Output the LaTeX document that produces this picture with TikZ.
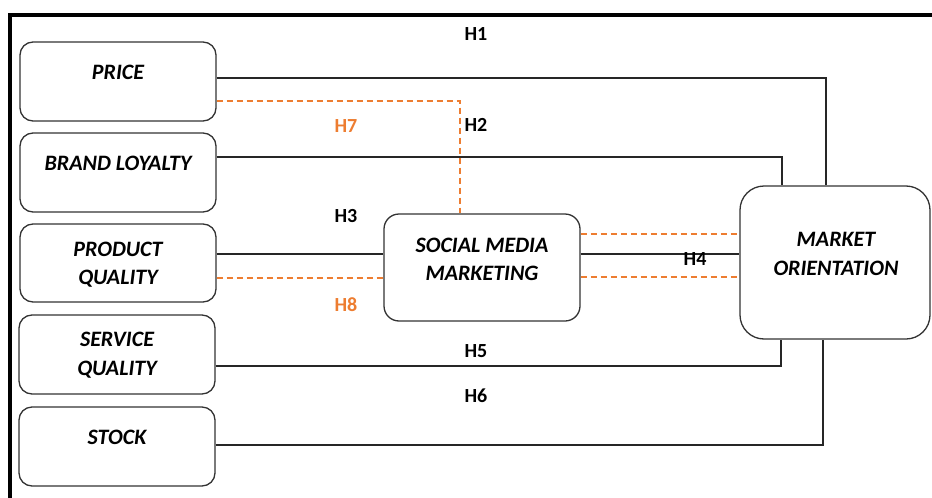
\documentclass[tikz,border=0pt]{standalone}
\usepackage{fontspec}
\setmainfont{Carlito}
\definecolor{orange7}{HTML}{ED7D31}
\begin{document}
\begin{tikzpicture}[x=1pt,y=-1pt,
  box/.style={draw=black!80, line width=1.3pt, rounded corners=13pt, inner sep=0pt,
              minimum width=196pt, minimum height=79pt},
  boxtext/.style={font=\fontsize{22}{28.5}\selectfont\bfseries\itshape, align=center, inner sep=0pt},
  hyp/.style={font=\fontsize{20}{22}\selectfont\bfseries, inner sep=0pt},
  hypo/.style={hyp, text=orange7},
  link/.style={draw=black!85, line width=1.2pt},
  dlink/.style={draw=orange7, line width=1.2pt, dash pattern=on 6pt off 4pt}]
\useasboundingbox (0,0) rectangle (932,498);

% outer frame (top and left edges)
\draw[line width=4pt, line join=miter] (10,498) -- (10,15) -- (932,15);

% left-hand constructs
\node[box] (price) at (118,81.5) {};
\node[box] (brand) at (118,172.5) {};
\node[box, minimum height=78pt] (pq) at (118,263) {};
\node[box] (sq) at (117,354.5) {};
\node[box] (stock) at (117,446.5) {};

% mediator and outcome
\node[box, minimum height=107pt, rounded corners=15pt] (smm) at (482,267.5) {};
\node[box, minimum width=190pt, minimum height=153pt, rounded corners=24pt] (mo) at (835,262.5) {};

% box captions
\node[boxtext] (tprice) at ([yshift=-31pt]price.north) {PRICE};
\node[boxtext] (tbrand) at ([yshift=-31pt]brand.north) {BRAND LOYALTY};
\node[boxtext] (tpq) at (118,264.5) {PRODUCT\\QUALITY};
\node[boxtext] (tsq) at (117,355) {SERVICE\\QUALITY};
\node[boxtext] (tstock) at ([yshift=-31pt]stock.north) {STOCK};
\node[boxtext] (tsmm) at (482,259.5) {SOCIAL MEDIA\\MARKETING};
\node[boxtext] (tmo) at (836,254) {MARKET\\ORIENTATION};

% direct paths to market orientation
\draw[link] ([yshift=3.5pt]price.east) -| ([xshift=-9pt]mo.north);
\draw[link] ([yshift=15.5pt]brand.east) -| ([xshift=-53pt]mo.north);
\draw[link] ([yshift=-11.5pt]sq.east) -| ([xshift=-54pt]mo.south);
\draw[link] ([yshift=1.5pt]stock.east) -| ([xshift=-12pt]mo.south);

% paths through social media marketing
\coordinate (smmA) at ([yshift=33.5pt]smm.east);
\coordinate (smmB) at ([yshift=13.5pt]smm.east);
\coordinate (smmC) at ([yshift=-9.5pt]smm.east);
\draw[link] ([yshift=9pt]pq.east) -- ([yshift=13.5pt]smm.west);
\draw[link] (smmB) -- (smmB -| mo.west);
\draw[dlink] ([yshift=-19.5pt]price.east) -| ([xshift=-22pt]smm.north);
\draw[dlink] ([yshift=-15pt]pq.east) -- ([yshift=-10.5pt]smm.west);
\draw[dlink] (smmA) -- (smmA -| mo.west);
\draw[dlink] (smmC) -- (smmC -| mo.west);

% hypothesis labels
\node[hyp] (h1) at (476,34) {H1};
\node[hyp] (h2) at (476,125) {H2};
\node[hypo] (h7) at (346,126) {H7};
\node[hyp] (h3) at (346,216) {H3};
\node[hypo] (h8) at (346,305) {H8};
\node[hyp] (h4) at (695,259) {H4};
\node[hyp] (h5) at (476,351) {H5};
\node[hyp] (h6) at (476,396) {H6};
\end{tikzpicture}
\end{document}
